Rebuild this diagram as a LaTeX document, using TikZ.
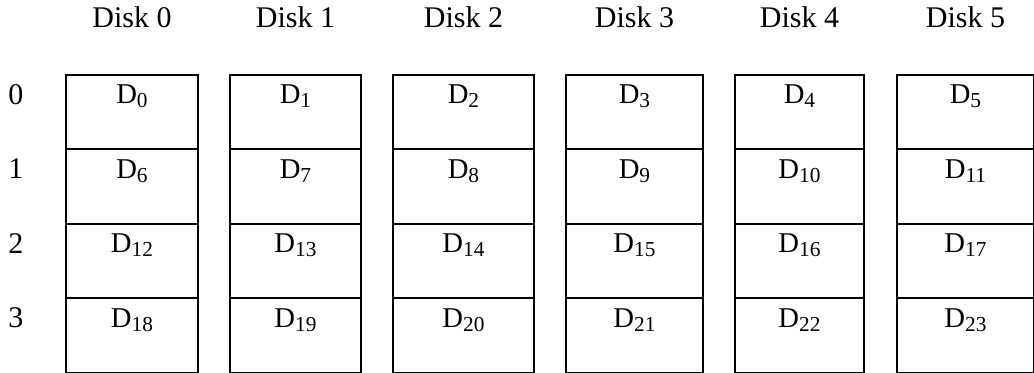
\documentclass[tikz,border=0pt]{standalone}
\usepackage{fontspec}
\setmainfont{Liberation Serif}
\usetikzlibrary{positioning}

% block label with a lowered index
\newcommand{\blk}[1]{D\raisebox{-3pt}{\fontsize{16}{18}\selectfont #1}}

\begin{document}
\begin{tikzpicture}[x=0.75pt, y=-0.75pt,
    cell/.style={draw, line width=1.4pt, inner sep=0pt, anchor=north west, minimum height=55.9pt},
    celltext/.style={inner sep=0pt, font=\fontsize{21.5}{24}\selectfont},
    disklabel/.style={inner sep=0pt, font=\fontsize{22.5}{26}\selectfont},
    rowlabel/.style={inner sep=0pt, anchor=north, font=\fontsize{22.5}{26}\selectfont}]
    \useasboundingbox (0,0) rectangle (1034,373);

    % Row numbers
    \foreach \r in {0,...,3}
        \node[rowlabel] (row\r) at (16, 84+74.5*\r) {\r};

    % Disks: column, left edge, width (pt)
    \foreach \c/\x/\w in {0/65/99, 1/229/98.25, 2/392/105.75, 3/565/102.75, 4/734/96.75, 5/896/102.75} {
        % blocks
        \foreach \r in {0,...,3} {
            \pgfmathtruncatemacro{\n}{6*\r+\c}
            \node[cell, minimum width=\w pt] (d\n) at (\x, 74+74.5*\r) {};
            \node[celltext, below=8pt of d\n.north] (t\n) {\blk{\n}};
        }
        % disk name
        \node[disklabel, above=34.5pt of d\c.north] (disk\c) {Disk \c};
    }

\end{tikzpicture}
\end{document}
